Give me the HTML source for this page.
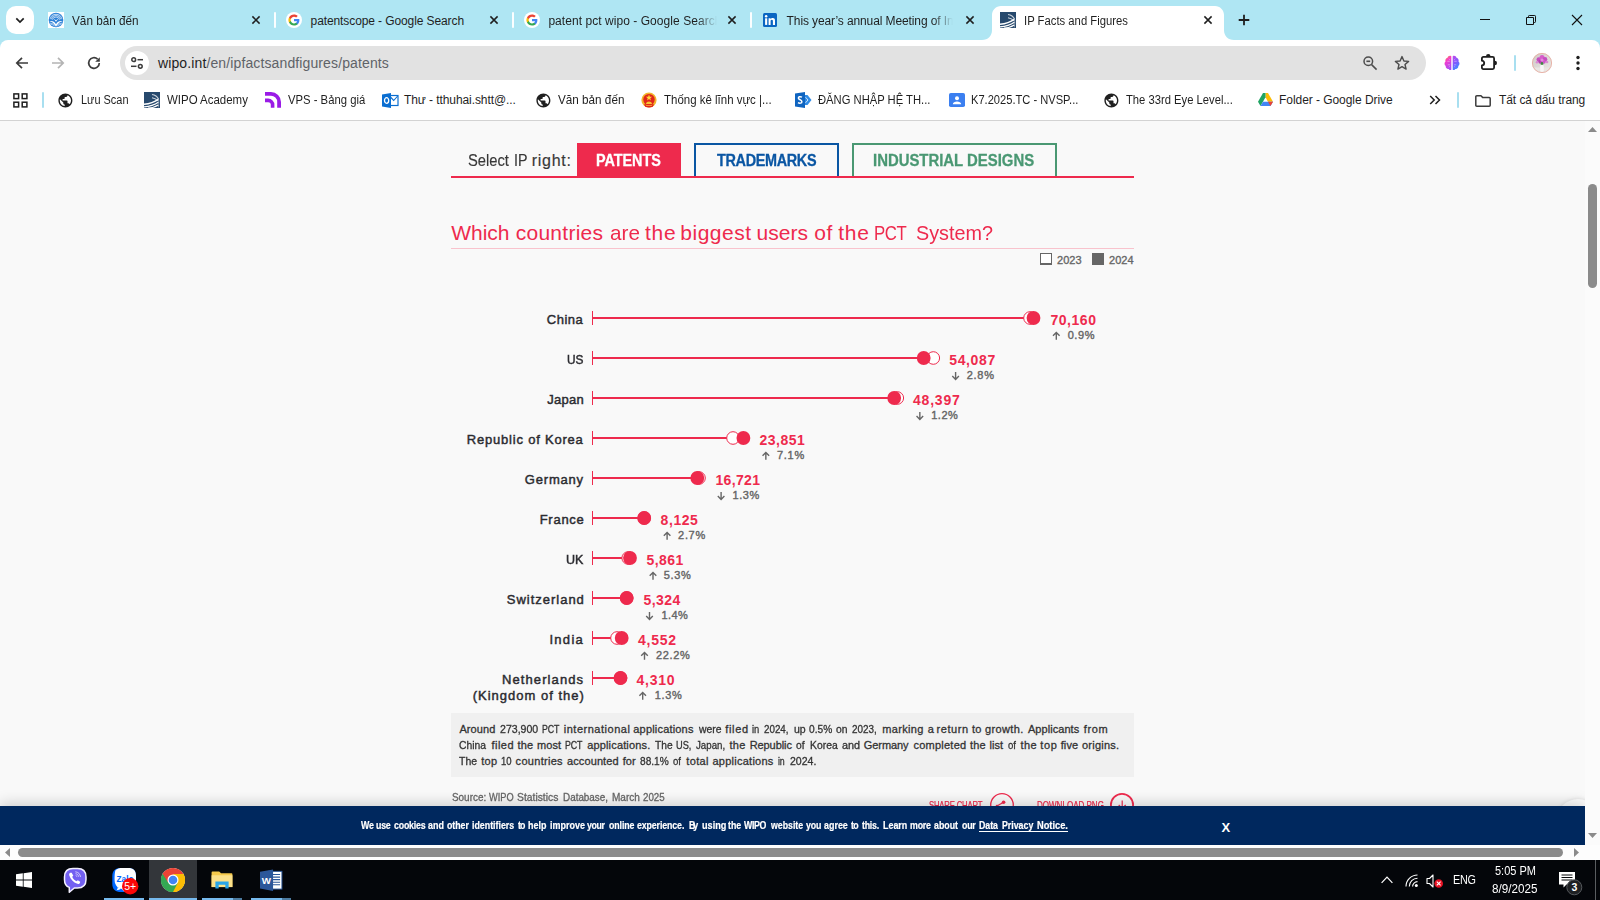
<!DOCTYPE html>
<html lang="en"><head><meta charset="utf-8"><title>IP Facts and Figures</title>
<style>
*{margin:0;padding:0;box-sizing:border-box}
html,body{width:1600px;height:900px;overflow:hidden;background:#fff}
body{position:relative;font-family:"Liberation Sans",sans-serif;color:#1f1f1f}
.a{position:absolute}
.t{position:absolute;white-space:nowrap;line-height:1}
svg{position:absolute;overflow:visible}
#tabstrip{left:0;top:0;width:1600px;height:52px;background:#afe6f3}
#toolbar{left:0;top:40px;width:1600px;height:81px;background:#fff;border-radius:8px 8px 0 0}
#omni{left:120px;top:46px;width:1306px;height:34px;border-radius:17px;background:#e2e2e2}
#page{left:0;top:121px;width:1585px;height:724px;background:#f9f9f9;overflow:hidden}
#vsb{left:1585px;top:121px;width:15px;height:724px;background:#fbfbfb}
#hsb{left:0;top:845px;width:1600px;height:15px;background:#fdfdfd}
#task{left:0;top:860px;width:1600px;height:40px;background:#04060a}
#cookie{left:0;top:806px;width:1585px;height:39px;background:#00285e;box-shadow:0 -3px 14px rgba(0,0,0,.17)}
.thumb{background:#8b8b8b;border-radius:5px}
.sep{width:2px;background:#fbfeff;border-radius:1px}
.bsep{width:2px;background:#a8dff0;border-radius:1px}
</style></head>
<body>
<div id="tabstrip" class="a"></div>
<div class="a" style="left:6px;top:6px;width:28px;height:28px;border-radius:10px;background:#fff"></div>
<svg class="a" style="left:12px;top:12px" width="16" height="16" viewBox="0 0 16 16" ><path d="M4.300 6.300L8 10L11.700 6.300" fill="none" stroke="#1f1f1f" stroke-width="1.700"/></svg>
<div id="toolbar" class="a"></div>
<svg class="a" style="left:980px;top:0px" width="260" height="41" viewBox="0 0 260 41" ><path d="M2 40C8 40 12 36 12 30V15C12 10 16 6 21 6H235C240 6 244 10 244 15V30C244 36 248 40 254 40V41H2Z" fill="#fff"/></svg>
<svg class="a" style="left:48px;top:12px" width="16" height="16" viewBox="0 0 16 16" ><rect width="16" height="16" fill="#fff"/><circle cx="8" cy="8" r="7.300" fill="#2d82d8"/><g fill="none" stroke="#fff" stroke-width=".75" stroke-opacity=".9"><path d="M2.200 6.800A6 6 0 0 1 13.800 6.800"/><path d="M3.300 7.300A4.800 4.800 0 0 1 12.700 7.300"/><path d="M4.500 7.700A3.600 3.600 0 0 1 11.500 7.700"/><path d="M2 11.200Q5 11 7 13.300M14 11.200Q11 11 9 13.300" stroke-width=".6"/><path d="M2.800 12.500Q5 12.300 6.500 14M13.200 12.500Q11 12.300 9.500 14" stroke-width=".6"/></g><path d="M1.300 9.300C4 8.300 6.300 9.300 8 12.200C9.700 9.300 12 8.300 14.700 9.300C12 9.700 10 11.300 8 14.800C6 11.300 4 9.700 1.300 9.300Z" fill="#fff"/><path d="M5.800 6.800L8 9.800L10.600 6.300L8 8.300Z" fill="#fff"/><path d="M7.600 6.500L8.300 8.200" stroke="#2d82d8" stroke-width=".5"/></svg>
<svg class="a" style="left:286px;top:12px" width="16" height="16" viewBox="0 0 24 24" ><circle cx="12" cy="12" r="12" fill="#fff"/><g transform="translate(3.6 3.6) scale(0.7)"><path fill="#4285F4" d="M23.5 12.3c0-.8-.1-1.6-.2-2.3H12v4.5h6.5c-.3 1.5-1.1 2.700-2.400 3.600v3h3.900c2.200-2.100 3.500-5.100 3.500-8.800z"/><path fill="#34A853" d="M12 24c3.200 0 6-1.100 8-2.900l-3.900-3c-1.100.7-2.500 1.200-4.100 1.200-3.100 0-5.800-2.100-6.700-5H1.300v3.100C3.300 21.300 7.300 24 12 24z"/><path fill="#FBBC05" d="M5.300 14.300c-.2-.7-.4-1.500-.4-2.300s.1-1.600.4-2.300V6.600H1.300C.5 8.200 0 10 0 12s.5 3.800 1.300 5.400l4-3.100z"/><path fill="#EA4335" d="M12 4.800c1.800 0 3.300.6 4.600 1.800l3.400-3.400C17.900 1.200 15.200 0 12 0 7.300 0 3.300 2.700 1.300 6.600l4 3.100c.9-2.800 3.600-4.900 6.700-4.900z"/></g></svg>
<svg class="a" style="left:524px;top:12px" width="16" height="16" viewBox="0 0 24 24" ><circle cx="12" cy="12" r="12" fill="#fff"/><g transform="translate(3.6 3.6) scale(0.7)"><path fill="#4285F4" d="M23.5 12.3c0-.8-.1-1.6-.2-2.3H12v4.5h6.5c-.3 1.5-1.1 2.700-2.400 3.600v3h3.900c2.200-2.100 3.500-5.100 3.500-8.800z"/><path fill="#34A853" d="M12 24c3.200 0 6-1.100 8-2.900l-3.900-3c-1.100.7-2.500 1.200-4.100 1.200-3.100 0-5.800-2.100-6.700-5H1.300v3.100C3.300 21.300 7.300 24 12 24z"/><path fill="#FBBC05" d="M5.300 14.300c-.2-.7-.4-1.500-.4-2.300s.1-1.600.4-2.300V6.600H1.300C.5 8.200 0 10 0 12s.5 3.800 1.300 5.400l4-3.100z"/><path fill="#EA4335" d="M12 4.800c1.800 0 3.300.6 4.600 1.800l3.400-3.400C17.900 1.200 15.200 0 12 0 7.300 0 3.300 2.700 1.300 6.600l4 3.100c.9-2.800 3.600-4.900 6.700-4.900z"/></g></svg>
<svg class="a" style="left:763px;top:13px" width="14" height="14" viewBox="0 0 14 14" ><rect width="14" height="14" rx="1.500" fill="#0a66c2"/><rect x="2.100" y="5.300" width="2.100" height="6.600" fill="#fff"/><circle cx="3.150" cy="3.200" r="1.250" fill="#fff"/><path d="M5.600 5.300h2v.9c.4-.7 1.200-1.100 2.100-1.100 2 0 2.300 1.300 2.300 2.900v3.900H9.900V8.500c0-.8 0-1.700-1.100-1.700s-1.200.8-1.200 1.700v3.400H5.600z" fill="#fff"/></svg>
<svg class="a" style="left:1000px;top:12px;overflow:hidden" width="16" height="16" viewBox="0 0 16 16"><rect width="16" height="16" fill="#27496d"/><g fill="none" stroke="#fff" stroke-linecap="butt"><path d="M0 12.300C5 11.700 10 10.300 14.300 7.300" stroke-width="1.500"/><path d="M0 14.900C5.500 14.500 10.500 13 14.400 10.200" stroke-width="1.300"/><path d="M4 16.200C8.500 15.800 11.500 14.800 14.300 13" stroke-width="1.200"/><path d="M8 2.500C11 3 13.300 4.500 14.500 7" stroke-width="1.100" stroke-opacity=".75"/><path d="M8 5.700C10.500 6 12.500 7 13.800 9" stroke-width="1.100" stroke-opacity=".8"/><path d="M14.300 6.500C14.900 9 14.900 12 14.300 15.500" stroke-width=".7" stroke-opacity=".55"/></g></svg>
<svg class="a" style="left:248px;top:12px" width="16" height="16" viewBox="0 0 16 16" ><path d="M4.4 4.4L11.6 11.6M11.6 4.4L4.4 11.6" stroke="#1f1f1f" stroke-width="1.5" fill="none" stroke-linecap="butt"/></svg>
<svg class="a" style="left:486px;top:12px" width="16" height="16" viewBox="0 0 16 16" ><path d="M4.4 4.4L11.6 11.6M11.6 4.4L4.4 11.6" stroke="#1f1f1f" stroke-width="1.5" fill="none" stroke-linecap="butt"/></svg>
<svg class="a" style="left:724px;top:12px" width="16" height="16" viewBox="0 0 16 16" ><path d="M4.4 4.4L11.6 11.6M11.6 4.4L4.4 11.6" stroke="#1f1f1f" stroke-width="1.5" fill="none" stroke-linecap="butt"/></svg>
<svg class="a" style="left:962px;top:12px" width="16" height="16" viewBox="0 0 16 16" ><path d="M4.4 4.4L11.6 11.6M11.6 4.4L4.4 11.6" stroke="#1f1f1f" stroke-width="1.5" fill="none" stroke-linecap="butt"/></svg>
<svg class="a" style="left:1200px;top:12px" width="16" height="16" viewBox="0 0 16 16" ><path d="M4.4 4.4L11.6 11.6M11.6 4.4L4.4 11.6" stroke="#1f1f1f" stroke-width="1.5" fill="none" stroke-linecap="butt"/></svg>
<div class="a sep" style="left:274px;top:12px;height:16px"></div>
<div class="a sep" style="left:512px;top:12px;height:16px"></div>
<div class="a sep" style="left:750px;top:12px;height:16px"></div>
<svg class="a" style="left:1236px;top:12px" width="16" height="16" viewBox="0 0 16 16" ><path d="M8 2.700V13.300M2.700 8H13.300" stroke="#1f1f1f" stroke-width="1.800" fill="none"/></svg>
<svg class="a" style="left:1480px;top:19px" width="10" height="1" viewBox="0 0 10 1" ><rect width="10" height="1" fill="#111"/></svg>
<svg class="a" style="left:1526px;top:15px" width="10" height="10" viewBox="0 0 10 10" ><path d="M0.500 2.500h7v7h-7zM2.500 2.500V1.300Q2.500 0.500 3.300 0.500H8.700Q9.500 0.500 9.500 1.300V6.700Q9.500 7.500 8.700 7.500H7.500" fill="none" stroke="#111" stroke-width="1"/></svg>
<svg class="a" style="left:1572px;top:15px" width="10" height="10" viewBox="0 0 10 10" ><path d="M0 0L10 10M10 0L0 10" stroke="#111" stroke-width="1.100" fill="none"/></svg>
<div id="omni" class="a"></div>
<svg class="a" style="left:14px;top:55px" width="16" height="16" viewBox="0 0 16 16" ><path d="M14 8H3M8 2.800L2.800 8L8 13.200" fill="none" stroke="#3c3c3c" stroke-width="1.700"/></svg>
<svg class="a" style="left:49.5px;top:55px" width="16" height="16" viewBox="0 0 16 16" ><path d="M2 8H13M8 2.800L13.200 8L8 13.200" fill="none" stroke="#b4b4b4" stroke-width="1.700"/></svg>
<svg class="a" style="left:85.7px;top:55px" width="16" height="16" viewBox="0 0 16 16" ><path d="M13.300 8A5.300 5.300 0 1 1 11.600 4.100" fill="none" stroke="#3c3c3c" stroke-width="1.700"/><path d="M13.800 2.200V6.800H9.200Z" fill="#3c3c3c"/></svg>
<div class="a" style="left:125px;top:51px;width:24px;height:24px;border-radius:12px;background:#fff"></div>
<svg class="a" style="left:129px;top:55px" width="16" height="16" viewBox="0 0 16 16" ><g fill="none" stroke="#3c3c3c" stroke-width="1.500"><circle cx="4.700" cy="4.700" r="1.900"/><path d="M8.500 4.700H14"/><circle cx="11.300" cy="11.300" r="1.900"/><path d="M2 11.300H7.500"/></g></svg>
<svg class="a" style="left:1361.7px;top:55px" width="16" height="16" viewBox="0 0 16 16" ><g fill="none" stroke="#4d4d4d" stroke-width="1.500"><circle cx="6.300" cy="6.300" r="4.300"/><path d="M9.600 9.600L14.600 14.600"/><path d="M4.400 6.300H8.200" stroke-width="1.600"/></g></svg>
<svg class="a" style="left:1394px;top:55px" width="16" height="16" viewBox="0 0 16 16" ><path d="M8 1.600L9.900 6L14.600 6.400L11 9.500L12.100 14.100L8 11.700L3.900 14.100L5 9.500L1.400 6.400L6.100 6Z" fill="none" stroke="#4d4d4d" stroke-width="1.400" stroke-linejoin="round"/></svg>
<svg class="a" style="left:1444px;top:55px" width="16" height="16" viewBox="0 0 16 16" ><defs><linearGradient id="bgl" x1=".2" y1="0" x2=".6" y2="1"><stop offset="0" stop-color="#ff8a3c"/><stop offset=".35" stop-color="#f43ccd"/><stop offset="1" stop-color="#a44cf5"/></linearGradient><linearGradient id="bgr" x1=".3" y1="0" x2=".7" y2="1"><stop offset="0" stop-color="#b44cf0"/><stop offset=".5" stop-color="#7a5cff"/><stop offset="1" stop-color="#2f94ff"/></linearGradient></defs><path d="M7.300 1.200C5.800 .300 3.800 1.100 3.500 2.800C1.800 3.200 .900 4.900 1.500 6.500C.100 7.700 .200 10 1.700 11C1.500 12.800 3 14.200 4.700 13.900C5.400 15.200 6.600 15.400 7.300 14.800Z" fill="url(#bgl)"/><path d="M8.700 1.200C10.200 .300 12.200 1.100 12.500 2.800C14.200 3.200 15.100 4.900 14.500 6.500C15.900 7.700 15.800 10 14.300 11C14.500 12.800 13 14.200 11.300 13.900C10.600 15.200 9.400 15.400 8.700 14.800Z" fill="url(#bgr)"/><path d="M3.300 6.300H5.800M3.800 9.800H6M10.200 6.300H12.700M10 9.800H12.200M4.800 3.800L5.800 4.800M11.200 3.800L10.200 4.800M4.800 12.200L5.800 11.400M11.200 12.200L10.200 11.400" stroke="#fff" stroke-opacity=".55" stroke-width=".7"/></svg>
<svg class="a" style="left:1480px;top:54px" width="17" height="17" viewBox="0 0 17 17" ><path d="M3.400 2.900H12.600Q14.100 2.900 14.100 4.400V13.600Q14.100 15.100 12.600 15.100H3.400Q1.900 15.100 1.900 13.600V11.300A2.300 2.300 0 0 0 1.900 6.700V4.400Q1.900 2.900 3.400 2.900Z" fill="none" stroke="#1f1f1f" stroke-width="1.800" stroke-linejoin="round"/><path d="M6 2.300A2.250 2.250 0 0 1 10.500 2.300Z" fill="#1f1f1f"/><path d="M14.800 6.800A2.200 2.200 0 0 1 14.800 11.200Z" fill="#1f1f1f"/></svg>
<div class="a bsep" style="left:1514px;top:55px;height:15.500px"></div>
<svg class="a" style="left:1532px;top:53px" width="20" height="20" viewBox="0 0 20 20" ><defs><clipPath id="avc"><circle cx="10" cy="10" r="10"/></clipPath><linearGradient id="avb" x1="0" y1="0" x2="1" y2="1"><stop offset="0" stop-color="#cfcac6"/><stop offset="1" stop-color="#ece9e6"/></linearGradient></defs><g clip-path="url(#avc)"><rect width="20" height="20" fill="url(#avb)"/><rect x="0" y="14.500" width="20" height="6" fill="#e9e6e3"/><path d="M9.200 9.500L8.500 13H11.500L10.800 9.500Z" fill="#4f8f4a"/><rect x="8.200" y="11.800" width="3.600" height="7" rx=".8" fill="#f7f7f7"/><circle cx="6.800" cy="6.500" r="2.300" fill="#c64cc0"/><circle cx="10" cy="4.600" r="2.500" fill="#d65ccb"/><circle cx="13" cy="6.300" r="2.300" fill="#c64cc0"/><circle cx="8.300" cy="8.800" r="2" fill="#b540b0"/><circle cx="11.800" cy="8.800" r="2" fill="#cf58c8"/><circle cx="10" cy="7" r="1.600" fill="#e58ade"/><circle cx="5" cy="9.300" r="1.300" fill="#d98bd2"/><circle cx="15" cy="9" r="1.300" fill="#d98bd2"/><circle cx="10" cy="10.300" r="1.200" fill="#3f8a45"/></g><circle cx="10" cy="10" r="9.600" fill="none" stroke="#e9a79a" stroke-width=".8"/></svg>
<svg class="a" style="left:1576px;top:55px" width="4" height="16" viewBox="0 0 4 16" ><circle cx="2" cy="2.500" r="1.700" fill="#1f1f1f"/><circle cx="2" cy="8" r="1.700" fill="#1f1f1f"/><circle cx="2" cy="13.500" r="1.700" fill="#1f1f1f"/></svg>
<svg class="a" style="left:12.5px;top:93px" width="15" height="15" viewBox="0 0 15 15" ><g fill="none" stroke="#1f1f1f" stroke-width="1.500"><rect x=".900" y=".900" width="4.700" height="4.700"/><rect x="9.200" y=".900" width="4.700" height="4.700"/><rect x=".900" y="9.200" width="4.700" height="4.700"/><rect x="9.200" y="9.200" width="4.700" height="4.700"/></g></svg>
<div class="a bsep" style="left:42px;top:92px;height:16px"></div>
<svg class="a" style="left:57.20px;top:91.60px" width="16.80" height="16.80" viewBox="0 0 24 24"><path fill="#1f1f1f" d="M12 2C6.480 2 2 6.480 2 12s4.480 10 10 10 10-4.480 10-10S17.520 2 12 2zm-1 17.930c-3.950-.490-7-3.850-7-7.930 0-.620.080-1.210.210-1.790L9 15v1c0 1.100.900 2 2 2v1.930zm6.900-2.540c-.260-.810-1-1.390-1.900-1.390h-1v-3c0-.550-.450-1-1-1H8v-2h2c.550 0 1-.450 1-1V7h2c1.100 0 2-.900 2-2v-.410c2.930 1.190 5 4.060 5 7.410 0 2.080-.800 3.970-2.100 5.390z"/></svg>
<svg class="a" style="left:534.60px;top:91.60px" width="16.80" height="16.80" viewBox="0 0 24 24"><path fill="#1f1f1f" d="M12 2C6.480 2 2 6.480 2 12s4.480 10 10 10 10-4.480 10-10S17.520 2 12 2zm-1 17.930c-3.950-.490-7-3.850-7-7.930 0-.620.080-1.210.210-1.790L9 15v1c0 1.100.900 2 2 2v1.930zm6.900-2.540c-.260-.810-1-1.390-1.900-1.390h-1v-3c0-.550-.450-1-1-1H8v-2h2c.550 0 1-.450 1-1V7h2c1.100 0 2-.900 2-2v-.410c2.930 1.190 5 4.060 5 7.410 0 2.080-.800 3.970-2.100 5.390z"/></svg>
<svg class="a" style="left:1102.60px;top:91.50px" width="16.80" height="16.80" viewBox="0 0 24 24"><path fill="#1f1f1f" d="M12 2C6.480 2 2 6.480 2 12s4.480 10 10 10 10-4.480 10-10S17.520 2 12 2zm-1 17.930c-3.950-.490-7-3.850-7-7.930 0-.620.080-1.210.210-1.790L9 15v1c0 1.100.900 2 2 2v1.930zm6.900-2.540c-.260-.810-1-1.390-1.900-1.390h-1v-3c0-.550-.450-1-1-1H8v-2h2c.550 0 1-.450 1-1V7h2c1.100 0 2-.900 2-2v-.410c2.930 1.190 5 4.060 5 7.410 0 2.080-.800 3.970-2.100 5.390z"/></svg>
<svg class="a" style="left:144px;top:92px;overflow:hidden" width="16" height="16" viewBox="0 0 16 16"><rect width="16" height="16" fill="#27496d"/><g fill="none" stroke="#fff" stroke-linecap="butt"><path d="M0 12.300C5 11.700 10 10.300 14.300 7.300" stroke-width="1.500"/><path d="M0 14.900C5.500 14.500 10.500 13 14.400 10.200" stroke-width="1.300"/><path d="M4 16.200C8.500 15.800 11.500 14.800 14.300 13" stroke-width="1.200"/><path d="M8 2.500C11 3 13.300 4.500 14.500 7" stroke-width="1.100" stroke-opacity=".75"/><path d="M8 5.700C10.500 6 12.500 7 13.800 9" stroke-width="1.100" stroke-opacity=".8"/><path d="M14.300 6.500C14.900 9 14.900 12 14.300 15.500" stroke-width=".7" stroke-opacity=".55"/></g></svg>
<svg class="a" style="left:265px;top:92px" width="16" height="16" viewBox="0 0 16 16" ><g fill="none" stroke="#9a1be6"><path d="M0 1.900H6A8.100 8.100 0 0 1 14.100 10V15.800" stroke-width="3.800"/><path d="M0 8.400H3.200A4.400 4.400 0 0 1 7.600 12.800V15.800" stroke-width="3.600"/></g></svg>
<svg class="a" style="left:382px;top:92.5px" width="16" height="15" viewBox="0 0 16 15" ><rect x="7" y="2.500" width="9" height="10" fill="#fff" stroke="#0a6ed1" stroke-width="1.200"/><path d="M7.500 3L11.700 7.500L15.700 3" fill="none" stroke="#0a6ed1" stroke-width="1.100"/><path d="M0 1.500L9 0V15L0 13.500Z" fill="#0a6ed1"/><ellipse cx="4.600" cy="7.500" rx="2.100" ry="2.800" fill="none" stroke="#fff" stroke-width="1.300"/></svg>
<svg class="a" style="left:641px;top:91.7px" width="16" height="16" viewBox="0 0 16 16" ><circle cx="8" cy="8" r="7.600" fill="#f3b52a"/><circle cx="8" cy="7.600" r="5.700" fill="#e0251b"/><path d="M8 2.600L8.800 4.800L11.100 4.800L9.300 6.200L9.900 8.400L8 7.100L6.100 8.400L6.700 6.200L4.900 4.800L7.200 4.800Z" fill="#ffd83a"/><path d="M4.800 12A3.300 3.300 0 0 1 11.200 12Z" fill="#f6c431"/><path d="M3 12.300H13L11.800 14.800Q8 16.300 4.200 14.800Z" fill="#e0251b"/><path d="M5 13.500H11" stroke="#f6c431" stroke-width=".7"/></svg>
<svg class="a" style="left:795px;top:91.7px" width="17" height="16" viewBox="0 0 17 16" ><path d="M9 3L12.500 3L16.500 8L12.500 13L9 13Z" fill="#2f8be6"/><path d="M10.500 5.200L13 8L10.500 10.800" fill="none" stroke="#cfe4fa" stroke-width="1"/><path d="M0 1.600L10 0V16L0 14.400Z" fill="#0f64c0"/><path d="M7 5.200C5 4.100 3.300 4.800 3.400 6.200C3.600 8 6.900 7.600 6.900 9.700C6.900 11.200 4.700 11.700 3 10.600" fill="none" stroke="#fff" stroke-width="1.500"/></svg>
<svg class="a" style="left:949px;top:93px" width="16" height="14" viewBox="0 0 16 14" ><rect width="16" height="14" rx="1.800" fill="#3b7ff0"/><circle cx="8" cy="5.200" r="2" fill="#fff"/><path d="M3.800 11.300C3.800 9.300 6 8.400 8 8.400S12.200 9.300 12.200 11.300Z" fill="#fff"/></svg>
<svg class="a" style="left:1257.5px;top:93px" width="15" height="14" viewBox="0 0 15 14" ><path d="M7.500 0H10L15 8.700H10L7.500 4.350Z" fill="#fbbc04"/><path d="M5 0H7.500V4.350L2.500 13L0 8.700Z" fill="#1fa463"/><path d="M2.500 13H12.500L15 8.700H5Z" fill="#4285f4"/><path d="M10 8.700H15L12.500 13Z" fill="#ea4335"/></svg>
<svg class="a" style="left:1429px;top:95px" width="12" height="10" viewBox="0 0 12 10" ><path d="M1.200 1L5.200 5L1.200 9M6.500 1L10.500 5L6.500 9" fill="none" stroke="#1f1f1f" stroke-width="1.500"/></svg>
<div class="a bsep" style="left:1457px;top:92px;height:16px"></div>
<svg class="a" style="left:1475px;top:94.5px" width="16" height="12" viewBox="0 0 16 12" ><path d="M.800 1.800Q.800 .800 1.800 .800H6L7.800 2.600H14.200Q15.200 2.600 15.200 3.600V10.200Q15.200 11.200 14.200 11.200H1.800Q.800 11.200 .800 10.200Z" fill="none" stroke="#3c3c3c" stroke-width="1.500" stroke-linejoin="round"/></svg>
<div class="a" style="left:0;top:120px;width:1600px;height:1px;background:#d3d3d3"></div>
<div class="t" style="left:158.00px;top:56.1px;font-size:14px;letter-spacing:0.12px;color:#1f1f1f">wipo.int<span style="color:#5f6368">/en/ipfactsandfigures/patents</span></div>
<div id="task" class="a"></div>
<div class="a" style="left:149px;top:860px;width:48px;height:40px;background:#33363a"></div>
<div class="a" style="left:104px;top:898px;width:40px;height:2px;background:#76b9ed"></div>
<div class="a" style="left:149px;top:898px;width:48px;height:2px;background:#76b9ed"></div>
<div class="a" style="left:202px;top:898px;width:31px;height:2px;background:#76b9ed"></div>
<div class="a" style="left:251px;top:898px;width:31px;height:2px;background:#76b9ed"></div>
<div class="a" style="left:233px;top:898px;width:9px;height:2px;background:#4c7ba0"></div>
<div class="a" style="left:282px;top:898px;width:9px;height:2px;background:#4c7ba0"></div>
<svg class="a" style="left:16px;top:872px" width="16" height="16" viewBox="0 0 16 16" ><path d="M0 2.300L6.800 1.300V7.600H0ZM7.600 1.200L16 0V7.600H7.600ZM0 8.400H6.800V14.700L0 13.700ZM7.600 8.400H16V16L7.600 14.800Z" fill="#fff"/></svg>
<svg class="a" style="left:63px;top:867px" width="25" height="26" viewBox="0 0 25 26" ><path d="M10 1.500H14.500C20.500 1.500 23 4 23 10V12.500C23 18.500 20.500 21 14.500 21H11.300L6.300 25.300V20.400C3 19.400 1.500 17 1.500 12.500V10C1.500 4 4 1.500 10 1.500Z" fill="#7360f2" stroke="#f4f1ff" stroke-width="1.500" stroke-linejoin="round"/><path d="M7.300 5.800C6.300 6.300 5.900 7.300 6.300 8.500C7.600 12.300 10.300 15.300 14.300 16.800C15.500 17.200 16.600 16.700 17 15.700L17.200 14.800L14.800 13.200L13.600 14.300C11.700 13.500 9.900 11.700 9.200 9.800L10.300 8.700L8.700 5.700Z" fill="#fff"/><path d="M12.300 4.800C15.200 5 17.300 7.100 17.500 10M12.500 6.700C14.200 6.900 15.400 8 15.600 9.700M12.700 8.500C13.400 8.600 13.800 9 13.900 9.700" fill="none" stroke="#fff" stroke-opacity=".8" stroke-width=".8"/></svg>
<svg class="a" style="left:112px;top:867px" width="25" height="26" viewBox="0 0 25 26" ><path d="M9 1H16C21.500 1 24 3.500 24 9V17C24 22.500 21.500 25 16 25H9C3.500 25 .300 22.500 .300 17V9C.300 3.500 3.500 1 9 1Z" fill="#0068ff"/><path d="M10.500 1H16C21.500 1 24 3.500 24 9V17C24 22.500 21.500 25 16 25H14C12 24.500 10.800 23.500 10 22C6.500 21.500 4 19.500 3 16C2.300 13.500 2.500 5.500 3.500 3.300C5 1.500 7.500 1 10.500 1Z" fill="#fff"/><path d="M5.800 20.300C5.600 21.600 5.200 22.500 4.600 23.300C6.300 23.200 7.800 22.600 9 21.600Z" fill="#fff"/><text x="4.500" y="15.200" font-family="Liberation Sans,sans-serif" font-size="8.800" font-weight="bold" fill="#0068ff" textLength="17" lengthAdjust="spacingAndGlyphs">Zalo</text></svg>
<svg class="a" style="left:121.8px;top:877.8px" width="16.4" height="16.4" viewBox="0 0 16.4 16.4" ><circle cx="8.200" cy="8.200" r="8.200" fill="#fb0707"/><text x="8.200" y="11.800" text-anchor="middle" font-family="Liberation Sans,sans-serif" font-size="10.500" fill="#fff">5+</text></svg>
<svg class="a" style="left:161px;top:868px" width="24" height="24" viewBox="0 0 24 24" ><circle cx="12" cy="12" r="12" fill="#fff"/><path d="M12 12L1.610 6A12 12 0 0 1 22.390 6Z" fill="#ea4335"/><path d="M12 12L22.390 6A12 12 0 0 1 12 24Z" fill="#fbbc04"/><path d="M12 12L12 24A12 12 0 0 1 1.610 6Z" fill="#34a853"/><path d="M12 6.500H22.100A12 12 0 0 0 1.610 6L6.800 14.800Z" fill="#ea4335"/><path d="M16.800 14.800L12 24A12 12 0 0 0 22.390 6H12Z" fill="#fbbc04"/><path d="M7.200 14.800L1.610 6A12 12 0 0 0 12 24L16.800 14.800Z" fill="#34a853"/><circle cx="12" cy="12" r="5.500" fill="#fff"/><circle cx="12" cy="12" r="4.300" fill="#4285f4"/></svg>
<svg class="a" style="left:211px;top:870.7px" width="22" height="18" viewBox="0 0 22 19" ><path d="M0 1.500Q0 .500 1 .500H8L10 2.500H21Q22 2.500 22 3.500V17H0Z" fill="#f5c94c"/><rect x="0" y="4.500" width="22" height="12.500" fill="#fbe08a"/><path d="M4 11H18V18.500H14.500V14.500H7.500V18.500H4Z" fill="#2aa5e8"/></svg>
<svg class="a" style="left:259.8px;top:868.6px" width="22.4" height="22.4" viewBox="0 0 24 24" ><rect x="9" y="2.500" width="14.500" height="19" fill="#fff" stroke="#2b579a" stroke-width="1"/><path d="M13.500 6H21.500M13.500 8.700H21.500M13.500 11.400H21.500M13.500 14.100H21.500M13.500 16.800H21.500" stroke="#2b579a" stroke-width="1.100"/><path d="M0 3L14 .500V23.500L0 21Z" fill="#2b579a"/><text x="6.800" y="16" text-anchor="middle" font-family="Liberation Sans,sans-serif" font-size="10.500" font-weight="bold" fill="#fff">W</text></svg>
<svg class="a" style="left:1381px;top:876px" width="12" height="8" viewBox="0 0 12 8" ><path d="M.600 6.800L6 1.200L11.400 6.800" fill="none" stroke="#fff" stroke-width="1.200"/></svg>
<svg class="a" style="left:1405px;top:874px" width="14" height="14" viewBox="0 0 14 14" ><g fill="none" stroke="#fff" stroke-width="1.100"><path d="M1 12.500A11.500 11.500 0 0 1 12.500 1"/><path d="M4.300 12.500A8.200 8.200 0 0 1 12.500 4.300"/><path d="M7.600 12.500A4.900 4.900 0 0 1 12.500 7.600"/></g><circle cx="11.300" cy="11.500" r="1.500" fill="#fff"/></svg>
<svg class="a" style="left:1426px;top:874px" width="18" height="14" viewBox="0 0 18 14" ><path d="M1 4.500H3.500L7 1V13L3.500 9.500H1Z" fill="none" stroke="#fff" stroke-width="1.100" stroke-linejoin="round"/><circle cx="12.700" cy="9.500" r="4.300" fill="#e81123"/><path d="M10.800 7.600L14.600 11.400M14.600 7.600L10.800 11.400" stroke="#fff" stroke-width="1.100"/></svg>
<svg class="a" style="left:1559px;top:872px" width="24" height="24" viewBox="0 0 24 24" ><path d="M0 0H16V12.500H7.500L4.500 15.500V12.500H0Z" fill="#fff"/><path d="M2.500 3H13.500M2.500 5.500H13.500M2.500 8H13.500" stroke="#06080b" stroke-width="1.100"/><circle cx="15.300" cy="15.300" r="7.500" fill="#1e2023" stroke="#55585c" stroke-width="1"/><text x="15.300" y="19.200" text-anchor="middle" font-family="Liberation Sans,sans-serif" font-size="10.500" font-weight="bold" fill="#fff">3</text></svg>
<div class="a" style="left:1595px;top:860px;width:1px;height:40px;background:#5a5d60"></div>
<div id="page" class="a"></div>
<div class="a" style="left:451px;top:176px;width:683px;height:2px;background:#ee2a4d"></div>
<div class="a" style="left:577px;top:143px;width:104px;height:34px;background:#ee2a4d"></div>
<div class="a" style="left:694px;top:143px;width:145px;height:33px;border:2px solid #0a56a3;border-bottom:none"></div>
<div class="a" style="left:852px;top:143px;width:205px;height:33px;border:2px solid #4a9873;border-bottom:none"></div>
<div class="a" style="left:451px;top:248px;width:683px;height:1px;background:#f9c3cd"></div>
<div class="a" style="left:1040px;top:253px;width:12px;height:12px;border:1px solid #666;border-bottom-width:2px;background:#fff"></div>
<div class="a" style="left:1092px;top:253px;width:12px;height:12px;background:#666"></div>
<svg class="a" style="left:0px;top:0px" width="1200" height="720" viewBox="0 0 1200 720" ><rect x="592" y="311" width="1" height="14" fill="#ee2a4d"/><rect x="592" y="317" width="441.5" height="2" fill="#ee2a4d"/><circle cx="1030.0" cy="318" r="6.300" fill="#fff" stroke="#ee2a4d" stroke-width="1"/><circle cx="1033.5" cy="318" r="6.900" fill="#ee2a4d"/><rect x="592" y="351" width="1" height="14" fill="#ee2a4d"/><rect x="592" y="357" width="341.3" height="2" fill="#ee2a4d"/><circle cx="933.3" cy="358" r="6.300" fill="#fff" stroke="#ee2a4d" stroke-width="1"/><circle cx="923.7" cy="358" r="6.900" fill="#ee2a4d"/><rect x="592" y="391" width="1" height="14" fill="#ee2a4d"/><rect x="592" y="397" width="305.3" height="2" fill="#ee2a4d"/><circle cx="897.3" cy="398" r="6.300" fill="#fff" stroke="#ee2a4d" stroke-width="1"/><circle cx="894.2" cy="398" r="6.900" fill="#ee2a4d"/><rect x="592" y="431" width="1" height="14" fill="#ee2a4d"/><rect x="592" y="437" width="151.4" height="2" fill="#ee2a4d"/><circle cx="733.0" cy="438" r="6.300" fill="#fff" stroke="#ee2a4d" stroke-width="1"/><circle cx="743.4" cy="438" r="6.900" fill="#ee2a4d"/><rect x="592" y="471" width="1" height="14" fill="#ee2a4d"/><rect x="592" y="477" width="107.0" height="2" fill="#ee2a4d"/><circle cx="699.0" cy="478" r="6.300" fill="#fff" stroke="#ee2a4d" stroke-width="1"/><circle cx="697.3" cy="478" r="6.900" fill="#ee2a4d"/><rect x="592" y="511" width="1" height="14" fill="#ee2a4d"/><rect x="592" y="517" width="52.2" height="2" fill="#ee2a4d"/><circle cx="644.2" cy="518" r="6.300" fill="#fff" stroke="#ee2a4d" stroke-width="1"/><circle cx="644.2" cy="518" r="6.900" fill="#ee2a4d"/><rect x="592" y="551" width="1" height="14" fill="#ee2a4d"/><rect x="592" y="557" width="38.0" height="2" fill="#ee2a4d"/><circle cx="628.2" cy="558" r="6.300" fill="#fff" stroke="#ee2a4d" stroke-width="1"/><circle cx="630.0" cy="558" r="6.900" fill="#ee2a4d"/><rect x="592" y="591" width="1" height="14" fill="#ee2a4d"/><rect x="592" y="597" width="34.7" height="2" fill="#ee2a4d"/><circle cx="626.7" cy="598" r="6.300" fill="#fff" stroke="#ee2a4d" stroke-width="1"/><circle cx="626.7" cy="598" r="6.900" fill="#ee2a4d"/><rect x="592" y="631" width="1" height="14" fill="#ee2a4d"/><rect x="592" y="637" width="29.7" height="2" fill="#ee2a4d"/><circle cx="617.0" cy="638" r="6.300" fill="#fff" stroke="#ee2a4d" stroke-width="1"/><circle cx="621.7" cy="638" r="6.900" fill="#ee2a4d"/><rect x="592" y="671" width="1" height="14" fill="#ee2a4d"/><rect x="592" y="677" width="28.5" height="2" fill="#ee2a4d"/><circle cx="620.5" cy="678" r="6.300" fill="#fff" stroke="#ee2a4d" stroke-width="1"/><circle cx="620.5" cy="678" r="6.900" fill="#ee2a4d"/></svg>
<div class="a" style="left:451px;top:713px;width:683px;height:64px;background:#f0f0f0"></div>
<svg class="a" style="left:990px;top:793px" width="24" height="24" viewBox="0 0 24 24" ><circle cx="12" cy="12" r="11.300" fill="none" stroke="#ee2a4d" stroke-width="1.300"/><path d="M6.500 13.200L13.600 9.200" stroke="#ee2a4d" stroke-width="1.200"/><circle cx="13.600" cy="9.200" r="1.800" fill="#ee2a4d"/><circle cx="7" cy="13" r="1.300" fill="#ee2a4d"/></svg>
<svg class="a" style="left:1110px;top:793px" width="24" height="24" viewBox="0 0 24 24" ><circle cx="12" cy="12" r="11.100" fill="none" stroke="#ee2a4d" stroke-width="1.800"/><path d="M12.200 7.400V15.500M8.700 12L12.200 15.500L15.700 12" fill="none" stroke="#ee2a4d" stroke-width="1.200"/></svg>
<div class="a" style="left:1556px;top:799px;width:44px;height:44px;border-radius:22px;background:#fdfdfd;box-shadow:0 0 4px rgba(0,0,0,.12)"></div>

<svg class="a" style="left:0px;top:0px" width="1200" height="720" viewBox="0 0 1200 720" ><path d="M1056.3 339.8V332.70000000000005M1053.0 335.8L1056.3 332.5L1059.6 335.8" fill="none" stroke="#666" stroke-width="1.400"/><path d="M955.6 372.1V379.2M952.3000000000001 376.1L955.6 379.40000000000003L958.9 376.1" fill="none" stroke="#666" stroke-width="1.400"/><path d="M919.85 412.1V419.2M916.5500000000001 416.1L919.85 419.40000000000003L923.15 416.1" fill="none" stroke="#666" stroke-width="1.400"/><path d="M765.85 459.8V452.70000000000005M762.5500000000001 455.8L765.85 452.5L769.15 455.8" fill="none" stroke="#666" stroke-width="1.400"/><path d="M721.1 492.1V499.2M717.8000000000001 496.1L721.1 499.40000000000003L724.4 496.1" fill="none" stroke="#666" stroke-width="1.400"/><path d="M667.1 539.8V532.7M663.8000000000001 535.8000000000001L667.1 532.5L670.4 535.8000000000001" fill="none" stroke="#666" stroke-width="1.400"/><path d="M653.0 579.8V572.7M649.7 575.8000000000001L653.0 572.5L656.3 575.8000000000001" fill="none" stroke="#666" stroke-width="1.400"/><path d="M649.5 612.1V619.1999999999999M646.2 616.0999999999999L649.5 619.4L652.8 616.0999999999999" fill="none" stroke="#666" stroke-width="1.400"/><path d="M644.5 659.8V652.7M641.2 655.8000000000001L644.5 652.5L647.8 655.8000000000001" fill="none" stroke="#666" stroke-width="1.400"/><path d="M642.7 699.8V692.7M639.4000000000001 695.8000000000001L642.7 692.5L646.0 695.8000000000001" fill="none" stroke="#666" stroke-width="1.400"/></svg>
<div class="t" style="left:72.00px;top:14.8px;font-size:12px;color:#1f1f1f;letter-spacing:0.0px;transform:scaleX(0.9794);transform-origin:0 0;">Văn bản đến</div>
<div class="t" style="left:310.60px;top:14.8px;font-size:12px;color:#1f1f1f;letter-spacing:-0.101px;">patentscope - Google Search</div>
<div class="a" style="left:548px;top:12.8px;width:169px;height:18px;overflow:hidden;-webkit-mask-image:linear-gradient(90deg,#000 149px,transparent 169px);mask-image:linear-gradient(90deg,#000 149px,transparent 169px)"><div class="t" style="left:0.40px;top:2px;font-size:12px;color:#1f1f1f;letter-spacing:0.053px">patent pct wipo - Google Search</div></div>
<div class="a" style="left:786px;top:12.8px;width:167px;height:18px;overflow:hidden;-webkit-mask-image:linear-gradient(90deg,#000 147px,transparent 167px);mask-image:linear-gradient(90deg,#000 147px,transparent 167px)"><div class="t" style="left:0.60px;top:2px;font-size:12px;color:#1f1f1f;letter-spacing:-0.105px">This year’s annual Meeting of International</div></div>
<div class="t" style="left:1024.06px;top:14.8px;font-size:12px;color:#1f1f1f;letter-spacing:0.0px;transform:scaleX(0.9406);transform-origin:0 0;">IP Facts and Figures</div>
<div class="t" style="left:80.60px;top:93.8px;font-size:12px;color:#1f1f1f;letter-spacing:0.0px;transform:scaleX(0.9126);transform-origin:0 0;">Lưu Scan</div>
<div class="t" style="left:166.50px;top:93.8px;font-size:12px;color:#1f1f1f;letter-spacing:0.0px;transform:scaleX(0.9549);transform-origin:0 0;">WIPO Academy</div>
<div class="t" style="left:287.50px;top:93.8px;font-size:12px;color:#1f1f1f;letter-spacing:0.0px;transform:scaleX(0.9408);transform-origin:0 0;">VPS - Bảng giá</div>
<div class="t" style="left:404.00px;top:93.8px;font-size:12px;color:#1f1f1f;letter-spacing:-0.084px;">Thư - tthuhai.shtt@...</div>
<div class="t" style="left:558.00px;top:93.8px;font-size:12px;color:#1f1f1f;letter-spacing:0.0px;transform:scaleX(0.9757);transform-origin:0 0;">Văn bản đến</div>
<div class="t" style="left:663.75px;top:93.8px;font-size:12px;color:#1f1f1f;letter-spacing:0.0px;transform:scaleX(0.9559);transform-origin:0 0;">Thống kê lĩnh vực |...</div>
<div class="t" style="left:817.50px;top:93.8px;font-size:12px;color:#1f1f1f;letter-spacing:0.0px;transform:scaleX(0.9348);transform-origin:0 0;">ĐĂNG NHẬP HỆ TH...</div>
<div class="t" style="left:971.00px;top:93.8px;font-size:12px;color:#1f1f1f;letter-spacing:0.0px;transform:scaleX(0.9264);transform-origin:0 0;">K7.2025.TC - NVSP...</div>
<div class="t" style="left:1125.50px;top:93.8px;font-size:12px;color:#1f1f1f;letter-spacing:0.0px;transform:scaleX(0.9364);transform-origin:0 0;">The 33rd Eye Level...</div>
<div class="t" style="left:1279.00px;top:93.8px;font-size:12px;color:#1f1f1f;letter-spacing:-0.052px;">Folder - Google Drive</div>
<div class="t" style="left:1499.00px;top:93.8px;font-size:12px;color:#1f1f1f;letter-spacing:-0.074px;">Tất cả dấu trang</div>
<div class="t" style="left:595.90px;top:152.5px;font-size:16px;color:#fff;letter-spacing:-0.049px;font-weight:700;-webkit-text-stroke:0.3px #fff;transform:scaleX(0.9000);transform-origin:0 0;">PATENTS</div>
<div class="t" style="left:716.50px;top:152.5px;font-size:16px;color:#0a56a3;letter-spacing:-0.357px;font-weight:700;-webkit-text-stroke:0.3px #0a56a3;transform:scaleX(0.9000);transform-origin:0 0;">TRADEMARKS</div>
<div class="t" style="left:872.57px;top:152.5px;font-size:16px;color:#4a9873;letter-spacing:0.0px;font-weight:700;-webkit-text-stroke:0.3px #4a9873;transform:scaleX(0.9312);transform-origin:0 0;">INDUSTRIAL DESIGNS</div>
<div class="t" style="left:1057.00px;top:254.5px;font-size:11px;color:#666;letter-spacing:0.049px;-webkit-text-stroke:0.35px #666;">2023</div>
<div class="t" style="left:1109.00px;top:254.5px;font-size:11px;color:#666;letter-spacing:0.049px;-webkit-text-stroke:0.35px #666;">2024</div>
<div class="t" style="left:546.80px;top:312.8px;font-size:13px;color:#2b2b30;letter-spacing:0.516px;-webkit-text-stroke:0.45px #2b2b30;">China</div>
<div class="t" style="left:566.79px;top:352.8px;font-size:13px;color:#2b2b30;letter-spacing:0.0px;-webkit-text-stroke:0.45px #2b2b30;transform:scaleX(0.9144);transform-origin:0 0;">US</div>
<div class="t" style="left:547.30px;top:392.8px;font-size:13px;color:#2b2b30;letter-spacing:0.278px;-webkit-text-stroke:0.45px #2b2b30;">Japan</div>
<div class="t" style="left:466.80px;top:432.8px;font-size:13px;color:#2b2b30;letter-spacing:0.793px;-webkit-text-stroke:0.45px #2b2b30;">Republic of Korea</div>
<div class="t" style="left:524.80px;top:472.8px;font-size:13px;color:#2b2b30;letter-spacing:0.807px;-webkit-text-stroke:0.45px #2b2b30;">Germany</div>
<div class="t" style="left:539.70px;top:512.8px;font-size:13px;color:#2b2b30;letter-spacing:0.734px;-webkit-text-stroke:0.45px #2b2b30;">France</div>
<div class="t" style="left:565.83px;top:552.8px;font-size:13px;color:#2b2b30;letter-spacing:0.0px;-webkit-text-stroke:0.45px #2b2b30;transform:scaleX(0.9662);transform-origin:0 0;">UK</div>
<div class="t" style="left:506.80px;top:592.8px;font-size:13px;color:#2b2b30;letter-spacing:0.983px;-webkit-text-stroke:0.45px #2b2b30;">Switzerland</div>
<div class="t" style="left:549.40px;top:632.8px;font-size:13px;color:#2b2b30;letter-spacing:1.31px;-webkit-text-stroke:0.45px #2b2b30;">India</div>
<div class="t" style="left:501.90px;top:672.8px;font-size:13px;color:#2b2b30;letter-spacing:1.11px;-webkit-text-stroke:0.45px #2b2b30;">Netherlands</div>
<div class="t" style="left:472.70px;top:688.7px;font-size:13px;color:#2b2b30;letter-spacing:1.008px;-webkit-text-stroke:0.45px #2b2b30;">(Kingdom of the)</div>
<div class="t" style="left:1050.40px;top:312.6px;font-size:14px;color:#ee2a4d;letter-spacing:0.553px;font-weight:700;">70,160</div>
<div class="t" style="left:1067.70px;top:329.7px;font-size:11px;color:#666;letter-spacing:0.569px;-webkit-text-stroke:0.4px #666;">0.9%</div>
<div class="t" style="left:949.20px;top:352.6px;font-size:14px;color:#ee2a4d;letter-spacing:0.653px;font-weight:700;">54,087</div>
<div class="t" style="left:966.75px;top:369.7px;font-size:11px;color:#666;letter-spacing:0.719px;-webkit-text-stroke:0.4px #666;">2.8%</div>
<div class="t" style="left:913.00px;top:392.6px;font-size:14px;color:#ee2a4d;letter-spacing:0.793px;font-weight:700;">48,397</div>
<div class="t" style="left:931.25px;top:409.7px;font-size:11px;color:#666;letter-spacing:0.486px;-webkit-text-stroke:0.4px #666;">1.2%</div>
<div class="t" style="left:759.40px;top:432.6px;font-size:14px;color:#ee2a4d;letter-spacing:0.513px;font-weight:700;">23,851</div>
<div class="t" style="left:776.90px;top:449.7px;font-size:11px;color:#666;letter-spacing:0.736px;-webkit-text-stroke:0.4px #666;">7.1%</div>
<div class="t" style="left:715.40px;top:472.6px;font-size:14px;color:#ee2a4d;letter-spacing:0.363px;font-weight:700;">16,721</div>
<div class="t" style="left:732.50px;top:489.7px;font-size:11px;color:#666;letter-spacing:0.536px;-webkit-text-stroke:0.4px #666;">1.3%</div>
<div class="t" style="left:660.60px;top:512.6px;font-size:14px;color:#ee2a4d;letter-spacing:0.563px;font-weight:700;">8,125</div>
<div class="t" style="left:678.10px;top:529.7px;font-size:11px;color:#666;letter-spacing:0.669px;-webkit-text-stroke:0.4px #666;">2.7%</div>
<div class="t" style="left:646.60px;top:552.6px;font-size:14px;color:#ee2a4d;letter-spacing:0.413px;font-weight:700;">5,861</div>
<div class="t" style="left:663.75px;top:569.7px;font-size:11px;color:#666;letter-spacing:0.653px;-webkit-text-stroke:0.4px #666;">5.3%</div>
<div class="t" style="left:643.40px;top:592.6px;font-size:14px;color:#ee2a4d;letter-spacing:0.488px;font-weight:700;">5,324</div>
<div class="t" style="left:661.50px;top:609.7px;font-size:11px;color:#666;letter-spacing:0.436px;-webkit-text-stroke:0.4px #666;">1.4%</div>
<div class="t" style="left:638.10px;top:632.6px;font-size:14px;color:#ee2a4d;letter-spacing:0.725px;font-weight:700;">4,552</div>
<div class="t" style="left:656.00px;top:649.7px;font-size:11px;color:#666;letter-spacing:0.648px;-webkit-text-stroke:0.4px #666;">22.2%</div>
<div class="t" style="left:636.50px;top:672.6px;font-size:14px;color:#ee2a4d;letter-spacing:0.75px;font-weight:700;">4,310</div>
<div class="t" style="left:654.70px;top:689.7px;font-size:11px;color:#666;letter-spacing:0.636px;-webkit-text-stroke:0.4px #666;">1.3%</div>
<div class="t" style="left:929.00px;top:799.9px;font-size:11px;color:#ee2a4d;letter-spacing:-0.235px;-webkit-text-stroke:0.25px #ee2a4d;transform:scaleX(0.7000);transform-origin:0 0;">SHARE CHART</div>
<div class="t" style="left:1036.50px;top:799.9px;font-size:11px;color:#ee2a4d;letter-spacing:0.0px;-webkit-text-stroke:0.25px #ee2a4d;transform:scaleX(0.7298);transform-origin:0 0;">DOWNLOAD PNG</div>
<div class="t" style="left:1453.30px;top:874.0px;font-size:12px;color:#fff;letter-spacing:-0.335px;transform:scaleX(0.9000);transform-origin:0 0;">ENG</div>
<div class="t" style="left:1494.50px;top:865.0px;font-size:12px;color:#fff;letter-spacing:0.0px;transform:scaleX(0.9174);transform-origin:0 0;">5:05 PM</div>
<div class="t" style="left:1492.00px;top:883.0px;font-size:12px;color:#fff;letter-spacing:0.0px;transform:scaleX(0.9726);transform-origin:0 0;">8/9/2025</div>
<div class="t" style="left:0;top:221.7px;font-size:21px;color:#ee2a4d;"><span class="t" style="left:451.25px;letter-spacing:-0.041px;">Which</span> <span class="t" style="left:515.75px;letter-spacing:0.255px;">countries</span> <span class="t" style="left:609.50px;letter-spacing:0.0px;transform:scaleX(0.9858);transform-origin:0 0;">are</span> <span class="t" style="left:645.00px;letter-spacing:0.743px;">the</span> <span class="t" style="left:680.25px;letter-spacing:0.52px;">biggest</span> <span class="t" style="left:756.50px;letter-spacing:0.037px;">users</span> <span class="t" style="left:814.25px;letter-spacing:0.571px;">of</span> <span class="t" style="left:838.25px;letter-spacing:0.743px;">the</span> <span class="t" style="left:874.20px;letter-spacing:-0.586px;transform:scaleX(0.8000);transform-origin:0 0;">PCT</span> <span class="t" style="left:915.75px;letter-spacing:0.0px;transform:scaleX(0.9412);transform-origin:0 0;">System?</span></div>
<div class="t" style="left:0;top:723.7px;font-size:11px;color:#333;-webkit-text-stroke:0.3px #333;"><span class="t" style="left:459.40px;letter-spacing:0.109px;">Around</span> <span class="t" style="left:499.90px;letter-spacing:0.0px;transform:scaleX(0.9610);transform-origin:0 0;">273,900</span> <span class="t" style="left:541.90px;letter-spacing:-0.203px;transform:scaleX(0.8000);transform-origin:0 0;">PCT</span> <span class="t" style="left:563.75px;letter-spacing:0.514px;">international</span> <span class="t" style="left:633.30px;letter-spacing:0.182px;">applications</span> <span class="t" style="left:698.85px;letter-spacing:0.0px;transform:scaleX(0.9464);transform-origin:0 0;">were</span> <span class="t" style="left:725.20px;letter-spacing:0.685px;">filed</span> <span class="t" style="left:752.30px;letter-spacing:0.0px;transform:scaleX(0.8527);transform-origin:0 0;">in</span> <span class="t" style="left:763.50px;letter-spacing:0.0px;transform:scaleX(0.8919);transform-origin:0 0;">2024,</span> <span class="t" style="left:793.60px;letter-spacing:0.0px;transform:scaleX(0.9573);transform-origin:0 0;">up</span> <span class="t" style="left:809.10px;letter-spacing:0.0px;transform:scaleX(0.9252);transform-origin:0 0;">0.5%</span> <span class="t" style="left:836.40px;letter-spacing:0.0px;transform:scaleX(0.9408);transform-origin:0 0;">on</span> <span class="t" style="left:852.20px;letter-spacing:0.0px;transform:scaleX(0.8991);transform-origin:0 0;">2023,</span> <span class="t" style="left:882.20px;letter-spacing:0.349px;">marking</span> <span class="t" style="left:927.70px;letter-spacing:0px;">a</span> <span class="t" style="left:936.40px;letter-spacing:0.616px;">return</span> <span class="t" style="left:971.90px;letter-spacing:0.344px;">to</span> <span class="t" style="left:985.00px;letter-spacing:0.381px;">growth.</span> <span class="t" style="left:1027.90px;letter-spacing:0.061px;">Applicants</span> <span class="t" style="left:1083.70px;letter-spacing:0.654px;">from</span></div>
<div class="t" style="left:0;top:739.7px;font-size:11px;color:#333;-webkit-text-stroke:0.3px #333;"><span class="t" style="left:459.40px;letter-spacing:0.0px;transform:scaleX(0.9385);transform-origin:0 0;">China</span> <span class="t" style="left:491.60px;letter-spacing:0.435px;">filed</span> <span class="t" style="left:517.40px;letter-spacing:0.263px;">the</span> <span class="t" style="left:537.10px;letter-spacing:0.073px;">most</span> <span class="t" style="left:565.30px;letter-spacing:-0.203px;transform:scaleX(0.8000);transform-origin:0 0;">PCT</span> <span class="t" style="left:587.20px;letter-spacing:0.159px;">applications.</span> <span class="t" style="left:655.00px;letter-spacing:0.0px;transform:scaleX(0.9290);transform-origin:0 0;">The</span> <span class="t" style="left:676.40px;letter-spacing:0.0px;transform:scaleX(0.8369);transform-origin:0 0;">US,</span> <span class="t" style="left:695.50px;letter-spacing:0.0px;transform:scaleX(0.8826);transform-origin:0 0;">Japan,</span> <span class="t" style="left:729.40px;letter-spacing:0.363px;">the</span> <span class="t" style="left:749.70px;letter-spacing:-0.086px;">Republic</span> <span class="t" style="left:795.75px;letter-spacing:0.0px;transform:scaleX(0.9340);transform-origin:0 0;">of</span> <span class="t" style="left:809.50px;letter-spacing:0.0px;transform:scaleX(0.9426);transform-origin:0 0;">Korea</span> <span class="t" style="left:841.90px;letter-spacing:0.0px;transform:scaleX(0.9871);transform-origin:0 0;">and</span> <span class="t" style="left:863.80px;letter-spacing:-0.073px;">Germany</span> <span class="t" style="left:913.50px;letter-spacing:0.233px;">completed</span> <span class="t" style="left:969.90px;letter-spacing:0.263px;">the</span> <span class="t" style="left:989.60px;letter-spacing:0.037px;">list</span> <span class="t" style="left:1007.50px;letter-spacing:0.0px;transform:scaleX(0.8698);transform-origin:0 0;">of</span> <span class="t" style="left:1020.60px;letter-spacing:0.313px;">the</span> <span class="t" style="left:1040.30px;letter-spacing:0.613px;">top</span> <span class="t" style="left:1060.70px;letter-spacing:0.1px;">five</span> <span class="t" style="left:1081.90px;letter-spacing:0.257px;">origins.</span></div>
<div class="t" style="left:0;top:755.7px;font-size:11px;color:#333;-webkit-text-stroke:0.3px #333;"><span class="t" style="left:459.40px;letter-spacing:0.0px;transform:scaleX(0.9503);transform-origin:0 0;">The</span> <span class="t" style="left:481.30px;letter-spacing:0.263px;">top</span> <span class="t" style="left:501.40px;letter-spacing:0.0px;transform:scaleX(0.8665);transform-origin:0 0;">10</span> <span class="t" style="left:515.60px;letter-spacing:0.296px;">countries</span> <span class="t" style="left:567.00px;letter-spacing:0.107px;">accounted</span> <span class="t" style="left:622.80px;letter-spacing:0.013px;">for</span> <span class="t" style="left:639.90px;letter-spacing:0.0px;transform:scaleX(0.9201);transform-origin:0 0;">88.1%</span> <span class="t" style="left:673.10px;letter-spacing:0.0px;transform:scaleX(0.8698);transform-origin:0 0;">of</span> <span class="t" style="left:686.30px;letter-spacing:0.363px;">total</span> <span class="t" style="left:712.50px;letter-spacing:0.246px;">applications</span> <span class="t" style="left:778.10px;letter-spacing:-0.194px;transform:scaleX(0.8000);transform-origin:0 0;">in</span> <span class="t" style="left:789.80px;letter-spacing:0.0px;transform:scaleX(0.9574);transform-origin:0 0;">2024.</span></div>
<div class="t" style="left:0;top:792.1px;font-size:11px;color:#666;-webkit-text-stroke:0.3px #666;"><span class="t" style="left:451.50px;letter-spacing:0.0px;transform:scaleX(0.9009);transform-origin:0 0;">Source:</span> <span class="t" style="left:488.80px;letter-spacing:0.0px;transform:scaleX(0.8379);transform-origin:0 0;">WIPO</span> <span class="t" style="left:516.90px;letter-spacing:0.0px;transform:scaleX(0.9402);transform-origin:0 0;">Statistics</span> <span class="t" style="left:562.50px;letter-spacing:0.0px;transform:scaleX(0.8984);transform-origin:0 0;">Database,</span> <span class="t" style="left:611.60px;letter-spacing:0.0px;transform:scaleX(0.9132);transform-origin:0 0;">March</span> <span class="t" style="left:643.10px;letter-spacing:0.0px;transform:scaleX(0.8870);transform-origin:0 0;">2025</span></div>
<div class="t" style="left:0;top:152.5px;font-size:16px;color:#383838;-webkit-text-stroke:0.15px #383838;"><span class="t" style="left:468.10px;letter-spacing:0.0px;transform:scaleX(0.9195);transform-origin:0 0;">Select</span> <span class="t" style="left:513.51px;letter-spacing:0.0px;transform:scaleX(0.8925);transform-origin:0 0;">IP</span> <span class="t" style="left:531.75px;letter-spacing:0.725px;">right:</span></div>
<div id="cookie" class="a"></div>
<div id="vsb" class="a"></div>
<div class="a thumb" style="left:1588px;top:184px;width:9px;height:104px"></div>
<svg class="a" style="left:1588px;top:127px" width="9" height="5" viewBox="0 0 9 5" ><path d="M0 5L4.500 0L9 5Z" fill="#8b8b8b"/></svg>
<svg class="a" style="left:1588px;top:833px" width="9" height="5" viewBox="0 0 9 5" ><path d="M0 0L4.500 5L9 0Z" fill="#8b8b8b"/></svg>
<div id="hsb" class="a"></div>
<div class="a thumb" style="left:18px;top:848px;width:1545px;height:9px"></div>
<svg class="a" style="left:5px;top:848px" width="5" height="9" viewBox="0 0 5 9" ><path d="M5 0L0 4.500L5 9Z" fill="#8b8b8b"/></svg>
<svg class="a" style="left:1574px;top:848px" width="5" height="9" viewBox="0 0 5 9" ><path d="M0 0L5 4.500L0 9Z" fill="#8b8b8b"/></svg>
<div class="t" style="left:0;top:820.4px;font-size:11px;color:#fff;-webkit-text-stroke:0.2px #fff;font-weight:700;"><span class="t" style="left:360.60px;letter-spacing:-0.059px;transform:scaleX(0.8000);transform-origin:0 0;">We</span> <span class="t" style="left:376.40px;letter-spacing:-0.293px;transform:scaleX(0.8000);transform-origin:0 0;">use</span> <span class="t" style="left:393.70px;letter-spacing:-0.245px;transform:scaleX(0.8000);transform-origin:0 0;">cookies</span> <span class="t" style="left:428.10px;letter-spacing:0.0px;transform:scaleX(0.8122);transform-origin:0 0;">and</span> <span class="t" style="left:446.60px;letter-spacing:-0.024px;transform:scaleX(0.8000);transform-origin:0 0;">other</span> <span class="t" style="left:472.00px;letter-spacing:0.0px;transform:scaleX(0.8027);transform-origin:0 0;">identifiers</span> <span class="t" style="left:517.70px;letter-spacing:-1.163px;transform:scaleX(0.8000);transform-origin:0 0;">to</span> <span class="t" style="left:528.30px;letter-spacing:0.0px;transform:scaleX(0.8125);transform-origin:0 0;">help</span> <span class="t" style="left:549.60px;letter-spacing:0.0px;transform:scaleX(0.8178);transform-origin:0 0;">improve</span> <span class="t" style="left:587.40px;letter-spacing:-0.477px;transform:scaleX(0.8000);transform-origin:0 0;">your</span> <span class="t" style="left:609.30px;letter-spacing:-0.104px;transform:scaleX(0.8000);transform-origin:0 0;">online</span> <span class="t" style="left:637.40px;letter-spacing:-0.136px;transform:scaleX(0.8000);transform-origin:0 0;">experience.</span> <span class="t" style="left:688.70px;letter-spacing:-2.569px;transform:scaleX(0.8000);transform-origin:0 0;">By</span> <span class="t" style="left:701.65px;letter-spacing:0.0px;transform:scaleX(0.8301);transform-origin:0 0;">using</span> <span class="t" style="left:728.25px;letter-spacing:-0.035px;transform:scaleX(0.8000);transform-origin:0 0;">the</span> <span class="t" style="left:744.20px;letter-spacing:-0.425px;transform:scaleX(0.8000);transform-origin:0 0;">WIPO</span> <span class="t" style="left:771.10px;letter-spacing:-0.038px;transform:scaleX(0.8000);transform-origin:0 0;">website</span> <span class="t" style="left:806.20px;letter-spacing:-0.231px;transform:scaleX(0.8000);transform-origin:0 0;">you</span> <span class="t" style="left:824.00px;letter-spacing:-0.0px;transform:scaleX(0.8107);transform-origin:0 0;">agree</span> <span class="t" style="left:851.00px;letter-spacing:-0.788px;transform:scaleX(0.8000);transform-origin:0 0;">to</span> <span class="t" style="left:862.00px;letter-spacing:-0.295px;transform:scaleX(0.8000);transform-origin:0 0;">this.</span> <span class="t" style="left:882.60px;letter-spacing:0.0px;transform:scaleX(0.8103);transform-origin:0 0;">Learn</span> <span class="t" style="left:910.40px;letter-spacing:-0.219px;transform:scaleX(0.8000);transform-origin:0 0;">more</span> <span class="t" style="left:934.40px;letter-spacing:-0.006px;transform:scaleX(0.8000);transform-origin:0 0;">about</span> <span class="t" style="left:961.70px;letter-spacing:-0.282px;transform:scaleX(0.8000);transform-origin:0 0;">our</span> <span class="t" style="left:978.80px;letter-spacing:-0.033px;transform:scaleX(0.8000);transform-origin:0 0;">Data</span> <span class="t" style="left:1001.90px;letter-spacing:-0.004px;transform:scaleX(0.8000);transform-origin:0 0;">Privacy</span> <span class="t" style="left:1037.00px;letter-spacing:0.0px;transform:scaleX(0.8439);transform-origin:0 0;">Notice.</span></div>
<div class="t" style="left:0;top:821.0px;font-size:13px;color:#fff;font-weight:700;"><span class="t" style="left:1221.50px;letter-spacing:0px;">X</span></div>
<div class="a" style="left:978.500px;top:830.500px;width:89.500px;height:1px;background:#fff"></div>
</body></html>
